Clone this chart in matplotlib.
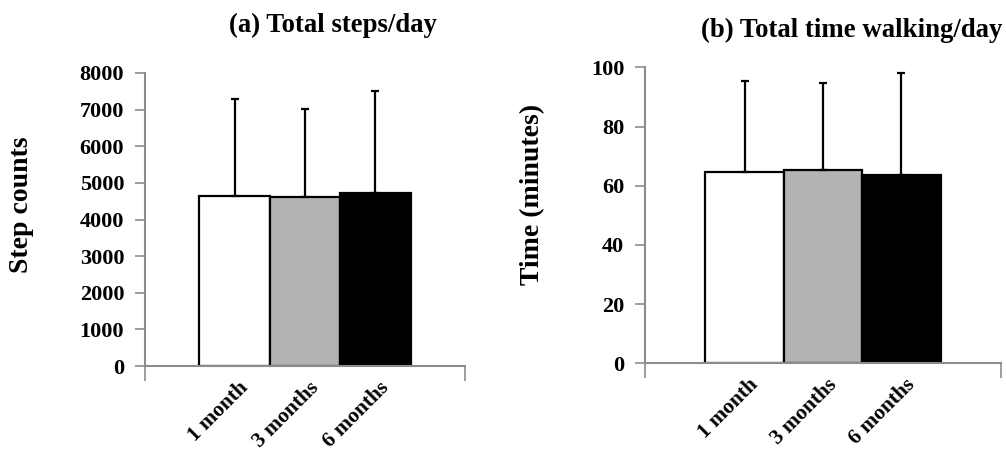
import numpy as np
import matplotlib.pyplot as plt
from matplotlib.ticker import FixedLocator
from matplotlib.transforms import ScaledTranslation

# =============================
# DATA
# =============================

periods = ["1 month", "3 months", "6 months"]
bar_colors = ["white", "#b3b3b3", "black"]

steps_mean = [4640, 4605, 4730]
steps_upper = [7290, 7015, 7515]

walk_mean = [64.7, 65.4, 63.6]
walk_upper = [95.4, 94.6, 98.2]

plt.rcParams["font.family"] = "Liberation Serif"
plt.rcParams["font.weight"] = "bold"

W, H = 1006, 455
fig = plt.figure(figsize=(W / 100, H / 100), dpi=100)

AXIS_GRAY = "#8c8c8c"


def draw_panel(ax, means, uppers, ymax, ystep, title, ylabel,
               title_x, title_y, ylabel_x, ylabel_y):
    x = np.arange(len(periods))
    err = np.array(uppers) - np.array(means)
    ax.bar(x, means, width=1.0, color=bar_colors, edgecolor="black",
           linewidth=1.6, zorder=2)
    ax.errorbar(x, means, yerr=[np.zeros_like(err), err], fmt="none",
                ecolor="black", elinewidth=1.6, capsize=2.6, capthick=1.6, zorder=3)

    half = 2.27
    ax.set_xlim(1 - half, 1 + half)
    ax.set_ylim(0, ymax)
    ax.set_yticks(np.arange(0, ymax + 1, ystep))
    ax.tick_params(axis="y", direction="out", length=7, width=1.2,
                   color=AXIS_GRAY, labelsize=16, pad=8)

    ax.set_xticks(x)
    ax.set_xticklabels(periods, rotation=45, ha="right", va="center",
                       rotation_mode="anchor", fontsize=15.5, fontweight="bold")
    ax.tick_params(axis="x", which="major", length=0, pad=13.5)
    # Excel puts the label ends a little right of the bar centres
    shift = ScaledTranslation(11 / 100, 0, fig.dpi_scale_trans)
    for lab in ax.get_xticklabels():
        lab.set_transform(lab.get_transform() + shift)
    ax.xaxis.set_minor_locator(FixedLocator([1 - half, 1 + half]))
    ax.tick_params(axis="x", which="minor", direction="out", length=11,
                   width=1.2, color=AXIS_GRAY)

    for side in ["top", "right"]:
        ax.spines[side].set_visible(False)
    for side in ["left", "bottom"]:
        ax.spines[side].set_color(AXIS_GRAY)
        ax.spines[side].set_linewidth(1.5)

    for lab in ax.get_yticklabels():
        lab.set_fontweight("bold")

    fig.text(title_x / W, 1 - title_y / H, title, ha="center", va="center",
             fontsize=19.3, fontweight="bold")
    fig.text(ylabel_x / W, 1 - ylabel_y / H, ylabel, ha="center", va="center",
             rotation=90, fontsize=20, fontweight="bold")


ax1 = fig.add_axes([145 / W, (H - 366) / H, 320 / W, 293 / H])
draw_panel(ax1, steps_mean, steps_upper, 8000, 1000,
           "(a) Total steps/day", "Step counts", 333, 25, 21, 205)

ax2 = fig.add_axes([645 / W, (H - 363.3) / H, 356 / W, 296 / H])
draw_panel(ax2, walk_mean, walk_upper, 100, 20,
           "(b) Total time walking/day", "Time (minutes)", 852, 30, 533, 194)

fig.savefig("out.png", dpi=100)
